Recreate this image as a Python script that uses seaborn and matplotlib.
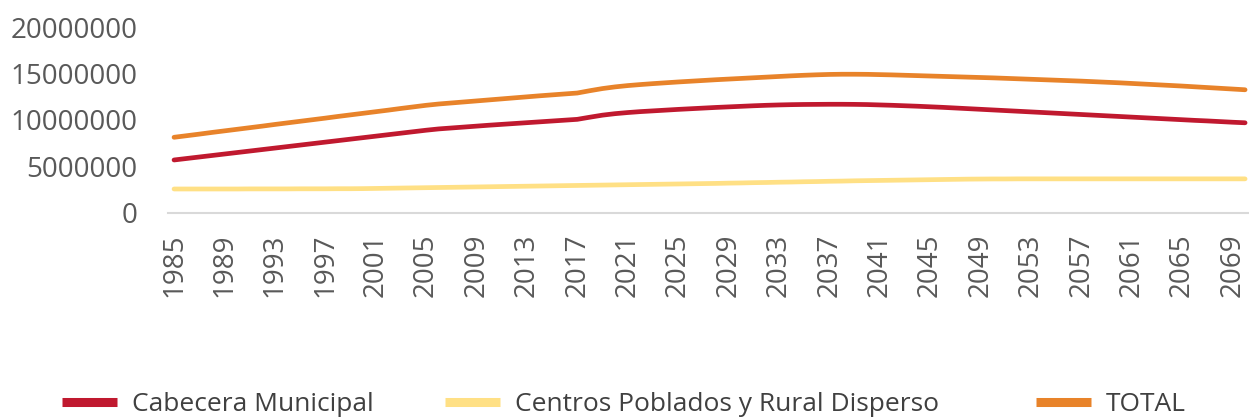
import numpy as np
import matplotlib
matplotlib.use("Agg")
import matplotlib.pyplot as plt
from matplotlib.lines import Line2D
import seaborn as sns
import pandas as pd

years = list(range(1985, 2071))

# values in millions
cabecera = [5.70, 5.86, 6.02, 6.18, 6.34, 6.50, 6.66, 6.82, 6.98, 7.14, 7.30,
            7.46, 7.62, 7.78, 7.94, 8.10, 8.26, 8.42, 8.58, 8.74, 8.90, 9.04,
            9.14, 9.24, 9.34, 9.44, 9.53, 9.62, 9.71, 9.80, 9.89, 9.98, 10.07,
            10.30, 10.52, 10.68, 10.80, 10.90, 10.98, 11.06, 11.14, 11.21, 11.28,
            11.35, 11.41, 11.47,
            11.53, 11.58, 11.62, 11.65, 11.67, 11.68, 11.69, 11.69, 11.68, 11.66,
            11.62, 11.58, 11.53, 11.48, 11.42, 11.36, 11.29, 11.22, 11.15, 11.08,
            11.01, 10.94, 10.87, 10.80, 10.73, 10.66, 10.59, 10.52, 10.45, 10.38,
            10.31, 10.24, 10.17, 10.10, 10.03, 9.96, 9.90, 9.83, 9.76, 9.70]

centros = [2.58, 2.58, 2.58, 2.58, 2.58, 2.58, 2.59, 2.59, 2.59, 2.59, 2.60,
           2.60, 2.60, 2.61, 2.61, 2.62,
           2.64, 2.66, 2.68, 2.70, 2.72,
           2.74, 2.76, 2.78, 2.80, 2.82, 2.84, 2.86, 2.88, 2.90, 2.92, 2.94,
           2.96, 2.98, 3.00, 3.02, 3.04, 3.06, 3.08, 3.10, 3.12, 3.14, 3.16,
           3.18, 3.21, 3.23, 3.26, 3.28, 3.31, 3.33, 3.36, 3.38, 3.41, 3.43,
           3.46, 3.48, 3.50, 3.52, 3.54, 3.56, 3.58, 3.60, 3.62, 3.64,
           3.65, 3.66, 3.66, 3.67, 3.67, 3.67, 3.67, 3.67, 3.67, 3.67, 3.67,
           3.67, 3.67, 3.67, 3.67, 3.67, 3.67, 3.67, 3.67, 3.67, 3.67, 3.67]

total = [8.14, 8.31, 8.48, 8.66, 8.83, 9.00, 9.17, 9.34, 9.52, 9.69, 9.86,
         10.03, 10.20, 10.38, 10.55, 10.72, 10.89, 11.06, 11.24, 11.41, 11.58, 11.72,
         11.83, 11.94, 12.05, 12.16, 12.27, 12.38, 12.49, 12.60, 12.70, 12.80, 12.90,
         13.15, 13.38, 13.56, 13.70, 13.81, 13.91, 14.00, 14.09, 14.17, 14.25,
         14.33, 14.40, 14.47,
         14.54, 14.61, 14.68, 14.75, 14.81, 14.86, 14.90, 14.92, 14.92, 14.91,
         14.88, 14.85, 14.81, 14.77, 14.73, 14.69, 14.65, 14.61, 14.57, 14.53,
         14.48, 14.43, 14.38, 14.33, 14.28, 14.23, 14.18, 14.12, 14.06, 14.00,
         13.93, 13.86, 13.79, 13.72, 13.65, 13.57, 13.49, 13.41, 13.33, 13.25]

series = ["Cabecera Municipal", "Centros Poblados y Rural Disperso", "TOTAL"]
colors = ["#C0192F", "#FFE085", "#E8832A"]

df = pd.DataFrame({"year": years * 3,
                   "value": np.array(cabecera + centros + total) * 1e6,
                   "serie": np.repeat(series, len(years))})

sns.set_style("white")
plt.rcParams["font.family"] = ["Open Sans", "DejaVu Sans"]

fig = plt.figure(figsize=(12.49, 4.2), dpi=100)
ax = fig.add_axes([0.1343, 0.4929, 0.8676, 0.4428])

sns.lineplot(data=df, x="year", y="value", hue="serie", palette=colors,
             linewidth=3.4, ax=ax, legend=False)
for ln in ax.lines:
    ln.set_solid_capstyle("round")
    ln.set_clip_on(False)

ax.set_xlim(1984.5, 2070.5)
ax.set_ylim(0, 20000000)
ax.set_xticks(range(1985, 2070, 4))
ax.set_xticklabels([str(y) for y in range(1985, 2070, 4)], rotation=90)
ax.set_yticks(range(0, 20000001, 5000000))
ax.set_yticklabels([str(v) for v in range(0, 20000001, 5000000)])
ax.set_xlabel("")
ax.set_ylabel("")
ax.tick_params(axis="both", length=0, labelsize=20, colors="#595959")
ax.tick_params(axis="x", pad=15)
ax.tick_params(axis="y", pad=22)
for s in ["top", "right", "left"]:
    ax.spines[s].set_visible(False)
ax.spines["bottom"].set_color("#D9D9D9")
ax.spines["bottom"].set_linewidth(1.5)
ax.grid(False)

anchors = [0.0496, 0.3563, 0.8295]
for name, col, xa in zip(series, colors, anchors):
    h = Line2D([0], [0], color=col, lw=6.5, solid_capstyle="butt")
    fig.legend([h], [name], loc="center left", bbox_to_anchor=(xa, 0.036),
               frameon=False, fontsize=19, handlelength=2.1, handletextpad=0.55,
               borderpad=0, borderaxespad=0, labelcolor="#404040")

fig.savefig("out.png", dpi=100)
